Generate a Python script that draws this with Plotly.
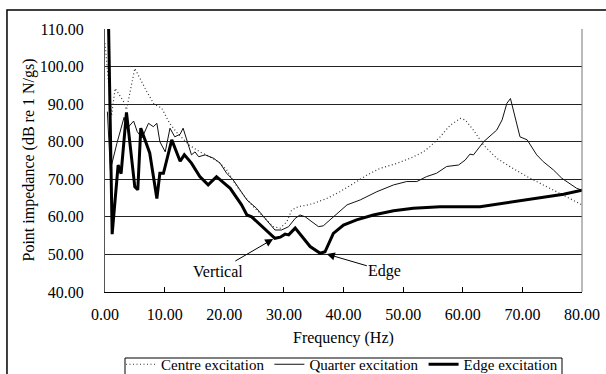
import plotly.graph_objects as go

# Centre excitation (dotted)
centre_x = [0.0, 1.1, 1.7, 2.5, 3.2, 3.6, 5.0, 7.0, 8.2, 9.5, 10.8, 12.0, 13.0, 14.2, 15.9, 17.6, 19.0,
            20.4, 21.8, 23.2, 24.6, 26.6, 28.2, 29.4, 30.5, 31.3, 32.4, 34.1, 35.0, 37.2, 39.4, 41.7,
            43.9, 46.1, 48.9, 51.2, 53.4, 54.5, 56.2, 57.9, 59.6, 60.4, 61.8, 63.5, 65.7, 68.0, 70.8,
            73.5, 76.3, 79.1, 80.0]
centre_y = [106.2, 86.9, 94.2, 92.4, 90.5, 88.5, 99.5, 93.4, 90.0, 89.0, 85.0, 82.5, 80.8, 79.0, 77.3,
            76.0, 74.7, 72.5, 68.9, 65.8, 63.2, 60.0, 57.4, 57.0, 58.7, 61.8, 62.7, 63.2, 63.6, 64.9,
            66.7, 68.9, 71.1, 72.9, 74.2, 75.6, 77.3, 78.7, 81.3, 84.4, 86.2, 85.8, 83.1, 79.1, 75.6,
            73.3, 70.7, 68.5, 66.3, 64.0, 63.2]

# Quarter excitation (thin solid)
quarter_x = [0.4, 0.9, 2.0, 3.2, 3.7, 4.8, 5.4, 6.2, 7.3, 8.1, 8.7, 9.2, 10.1, 10.9, 11.7, 12.6, 13.1,
             13.8, 14.5, 15.1, 15.7, 16.8, 18.2, 19.3, 20.4, 21.5, 22.9, 23.8, 25.4, 27.1, 28.5, 29.6,
             30.8, 31.9, 32.7, 33.6, 34.5, 35.8, 36.6, 38.3, 40.6, 42.8, 45.6, 48.4, 50.6, 52.3, 53.9,
             55.6, 57.3, 59.3, 60.4, 61.2, 61.8, 63.5, 65.7, 66.6, 67.4, 68.0, 68.8, 69.6, 70.8, 72.4,
             73.5, 75.2, 76.6, 78.0, 79.1, 80.0]
quarter_y = [88.0, 72.5, 79.6, 86.5, 83.5, 85.5, 82.7, 81.0, 84.9, 84.0, 84.9, 80.0, 77.3, 83.6, 81.3,
             82.0, 83.6, 80.0, 76.5, 77.3, 76.0, 76.5, 75.6, 74.3, 71.6, 69.8, 66.7, 64.5, 62.3, 59.2,
             56.5, 56.5, 57.4, 59.6, 60.5, 60.0, 59.0, 57.4, 57.6, 60.0, 63.2, 64.5, 66.7, 68.5, 69.4,
             69.4, 70.7, 71.6, 73.4, 73.8, 75.1, 76.7, 76.5, 80.0, 83.1, 85.8, 90.2, 91.5, 86.7, 81.3,
             80.5, 76.5, 74.7, 72.5, 70.3, 68.9, 67.6, 67.1]

# Edge excitation (thick solid)
edge_x = [0.5, 1.2, 2.2, 2.7, 3.6, 5.0, 5.5, 6.0, 7.5, 8.7, 9.2, 9.8, 11.2, 12.6, 13.3, 14.5, 15.9,
          17.3, 18.7, 21.0, 22.9, 23.8, 24.6, 26.6, 28.5, 29.4, 30.2, 30.8, 31.9, 34.4, 36.1, 36.9,
          38.3, 40.0, 42.2, 45.0, 48.4, 51.7, 56.2, 62.9, 65.7, 71.3, 76.9, 80.0]
edge_y = [120.0, 55.4, 73.8, 71.5, 87.8, 68.0, 67.2, 83.6, 77.0, 64.9, 71.6, 71.6, 80.5, 74.8, 76.5,
          74.3, 70.7, 68.5, 70.7, 67.6, 63.2, 60.5, 60.0, 57.0, 54.3, 54.6, 55.4, 55.2, 57.0, 52.1,
          50.3, 50.7, 55.6, 57.8, 59.2, 60.5, 61.6, 62.3, 62.7, 62.7, 63.4, 64.7, 66.0, 67.1]

y_ticks = [40, 50, 60, 70, 80, 90, 100, 110]
x_ticks = [0, 10, 20, 30, 40, 50, 60, 70, 80]

FONT = "Liberation Serif"

fig = go.Figure()
fig.add_trace(go.Scatter(x=centre_x, y=centre_y, mode="lines", name="Centre excitation",
                         line=dict(color="#333333", width=1.2, dash="1px,2.5px")))
fig.add_trace(go.Scatter(x=quarter_x, y=quarter_y, mode="lines", name="Quarter excitation",
                         line=dict(color="#111111", width=1)))
fig.add_trace(go.Scatter(x=edge_x, y=edge_y, mode="lines", name="Edge excitation",
                         line=dict(color="#000000", width=3)))

fig.update_layout(
    width=606, height=374,
    margin=dict(l=105, r=24, t=29, b=82, autoexpand=False),
    paper_bgcolor="white", plot_bgcolor="white",
    font=dict(family=FONT, size=16, color="black"),
    showlegend=True,
    legend=dict(orientation="h", x=(121 - 105) / 477, y=(292 - 348) / 263, xanchor="left",
                yanchor="top", borderwidth=0, bgcolor="rgba(0,0,0,0)",
                font=dict(size=15, family=FONT), tracegroupgap=0, itemwidth=30),
    xaxis=dict(range=[0, 80], tickvals=x_ticks, tickformat=".2f", ticks="inside", ticklen=5,
               tickcolor="black", showgrid=False, zeroline=False, showline=True,
               linecolor="black", linewidth=1, ticklabelstandoff=8, automargin=False,
               tickfont=dict(size=16, family=FONT)),
    yaxis=dict(range=[40, 110], tickvals=y_ticks, tickformat=".2f", ticks="", showgrid=True,
               gridcolor="#222222", gridwidth=1, zeroline=False, showline=True,
               linecolor="#555555", linewidth=1, ticklabelstandoff=17, automargin=False,
               tickfont=dict(size=16, family=FONT)),
    shapes=[
        dict(type="line", xref="paper", yref="paper", x0=1, x1=1, y0=0, y1=1,
             line=dict(color="#777777", width=1)),
        dict(type="rect", xref="paper", yref="paper", x0=-0.2055, x1=1.07, y0=-0.36, y1=1.0722,
             line=dict(color="black", width=1.5), fillcolor="rgba(0,0,0,0)", layer="below"),
        dict(type="rect", xref="paper", yref="paper", x0=(125 - 105) / 477, x1=(562 - 105) / 477,
             y0=-0.4, y1=(292 - 358) / 263, line=dict(color="black", width=1),
             fillcolor="rgba(0,0,0,0)", layer="below"),
    ],
    annotations=[
        dict(text="Frequency (Hz)", xref="paper", yref="paper", x=0.5, y=(292 - 338) / 263,
             showarrow=False, xanchor="center", yanchor="middle", font=dict(size=16, family=FONT)),
        dict(text="Point impedance (dB re 1 N/gs)", xref="paper", yref="paper",
             x=(28 - 105) / 477, y=0.5, textangle=-90, showarrow=False,
             xanchor="center", yanchor="middle", font=dict(size=16, family=FONT)),
        dict(text="Vertical", x=28.2, y=54.1, ax=-55, ay=32, showarrow=True, arrowhead=2,
             arrowsize=1.6, arrowwidth=1, arrowcolor="black", font=dict(size=16, family=FONT)),
        dict(text="Edge", x=37.2, y=50.1, ax=58, ay=17, showarrow=True, arrowhead=2,
             arrowsize=1.6, arrowwidth=1, arrowcolor="black", font=dict(size=16, family=FONT)),
    ],
)

fig.write_html("out.html", config={"displayModeBar": False},
               post_script="document.body.style.margin='0';document.body.style.overflow='hidden';")
